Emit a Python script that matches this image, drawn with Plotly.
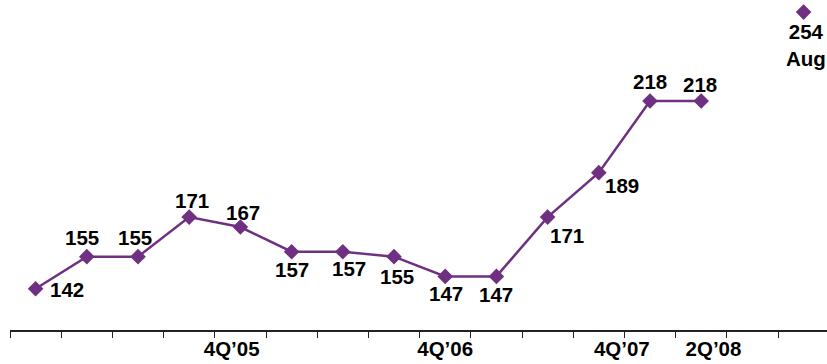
import plotly.graph_objects as go

# Quarterly series (4Q'04 .. 1Q'08), then a separate August reading
quarter_values = [142, 155, 155, 171, 167, 157, 157, 155, 147, 147, 171, 189, 218, 218]
aug_value = 254
aug_label = "Aug"

# Category slots along the axis: 14 quarters, one empty slot, then August
n_slots = 16
quarter_x = list(range(len(quarter_values)))
aug_x = 15

tick_labels = ["4Q\u201905", "4Q\u201906", "4Q\u201907", "2Q\u201908"]
tick_positions = [3.83, 8.0, 11.45, 13.24]

# Pixel offsets for each value label relative to its marker (dx, dy; dy>0 is up)
label_offsets = [(31, -1), (-5, 19), (-3, 19), (3, 17), (3, 15), (0, -18),
                 (6, -17), (3, -20), (1, -17), (0, -18), (19, -18), (23, -13),
                 (0, 20), (-1, 17)]

purple = "#6F3082"
font_family = "Liberation Sans, Arial, sans-serif"
label_size = 20.5

fig = go.Figure()
fig.add_trace(go.Scatter(
    x=quarter_x, y=quarter_values, mode="lines+markers",
    line=dict(color=purple, width=2.5),
    marker=dict(symbol="diamond", size=12, color=purple),
    hoverinfo="skip", showlegend=False,
))
fig.add_trace(go.Scatter(
    x=[aug_x], y=[aug_value], mode="markers",
    marker=dict(symbol="diamond", size=12, color=purple),
    hoverinfo="skip", showlegend=False,
))

for x, v, (dx, dy) in zip(quarter_x, quarter_values, label_offsets):
    fig.add_annotation(x=x, y=v, text=f"<b>{v}</b>", showarrow=False,
                       xshift=dx, yshift=dy,
                       font=dict(family=font_family, size=label_size, color="black"))

fig.add_annotation(x=aug_x, y=aug_value, text=f"<b>{aug_value}<br>{aug_label}</b>",
                   showarrow=False, xshift=2, yshift=-33,
                   font=dict(family=font_family, size=label_size, color="black"))

fig.update_layout(
    width=827, height=364,
    margin=dict(l=10, r=0, t=0, b=34),
    paper_bgcolor="white", plot_bgcolor="white",
    font=dict(family=font_family, size=label_size, color="black"),
    xaxis=dict(
        range=[-0.5, 817 / 51.2 - 0.5],
        tickvals=tick_positions,
        ticktext=[f"<b>{t}</b>" for t in tick_labels],
        ticks="", ticklen=0,
        minor=dict(tick0=-0.5, dtick=1, ticks="outside", ticklen=6,
                   tickcolor="#222", tickwidth=1.3, showgrid=False),
        showline=True, linecolor="#222", linewidth=1.5,
        showgrid=False, zeroline=False, fixedrange=True,
        tickfont=dict(family=font_family, size=label_size, color="black"),
    ),
    yaxis=dict(
        range=[125.3, 258.9], visible=False, showgrid=False,
        zeroline=False, fixedrange=True,
    ),
)

fig.write_html("out.html")
